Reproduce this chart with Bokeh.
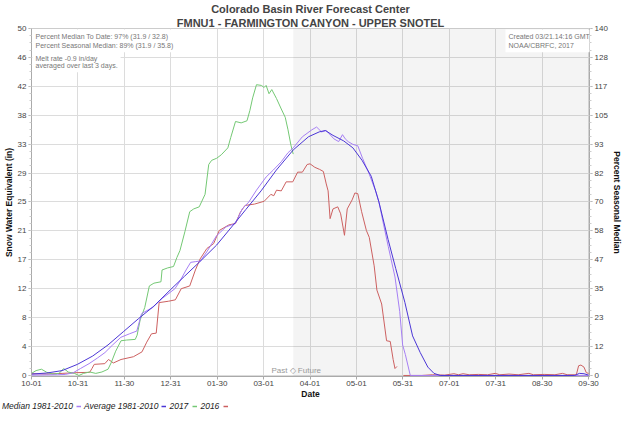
import math
from bokeh.plotting import figure
from bokeh.layouts import column, row
from bokeh.models import (Range1d, LinearAxis, FixedTicker, Label, Title, BoxAnnotation,
                          Legend, LegendItem)
from bokeh.embed import file_html
from bokeh.resources import INLINE

# ---------------- data ----------------
TITLE_1 = "Colorado Basin River Forecast Center"
TITLE_2 = "FMNU1 - FARMINGTON CANYON - UPPER SNOTEL"

# x axis: days since 10-01 (water year)
X_TICK_LABELS = ["10-01", "10-31", "11-30", "12-31", "01-30", "03-01", "04-01",
                 "05-01", "05-31", "07-01", "07-31", "08-30", "09-30"]
LAST_DAY = 364
SWE_MAX = 50
PCT_MAX = 140
CURRENT_DAY = 171  # 03-21

MEDIAN_DAYS = [0, 17, 22, 27, 32, 37.6, 43, 48, 53, 58.4, 64, 68.8, 71.9, 75, 79.2, 85.4,
               93.7, 97, 101, 104, 107, 110.4, 114.5, 120.8, 127, 133.2, 137.7, 142, 147,
               153.3, 158, 163.2, 167.6, 171, 177, 183.2, 186.3, 189.5, 192.6, 197.6, 200.7,
               203.2, 205, 206.9, 210, 213.2, 216.3, 220.7, 225, 227, 230, 233.1, 237.5,
               240.6, 242.5, 244.3, 247.5, 364]
MEDIAN_SWE = [0.05, 0.1, 0.15, 0.36, 1.0, 1.7, 2.5, 3.3, 4.4, 5.5, 6.0, 6.4, 8.9, 9.3, 9.8, 11.1,
              12.5, 13.6, 15.2, 16.3, 16.4, 16.5, 17.8, 20.1, 21.4, 21.9, 24.0, 25.0, 26.7,
              28.6, 29.6, 30.8, 32.1, 32.8, 34.4, 35.4, 35.8, 35.1, 35.3, 34.1, 33.7,
              34.7, 34.1, 33.7, 33.3, 33.1, 31.3, 29.0, 26.5, 25.0, 21.8, 18.6, 14.2,
              9.2, 4.4, 3.0, 0.0, 0.0]

AVERAGE_DAYS = [0, 10, 20, 30, 40, 50, 60, 70, 80, 91, 100, 110, 121, 133, 140, 150, 160, 171,
                181, 188, 192, 197, 204, 210, 216, 222, 227, 233, 238, 244, 249, 254, 259, 263,
                267, 355, 358, 361, 364]
AVERAGE_SWE = [0.2, 0.35, 0.7, 1.6, 2.8, 4.4, 6.3, 8.2, 10.0, 12.4, 14.3, 16.4, 18.8, 22.0, 23.9,
               26.6, 29.6, 32.5, 34.4, 35.1, 35.3, 34.6, 33.8, 32.8, 31.0, 28.7, 25.0, 19.6,
               15.4, 10.5, 5.7, 3.3, 1.2, 0.3, 0.0, 0.0, 0.3, 0.25, 0.05]

Y2017_DAYS = [0, 3, 6.5, 10, 14, 18, 21, 24, 28, 31, 34, 38, 42, 46, 50, 52, 55, 58.5, 62, 67.8,
              69, 71, 74, 77, 80, 84.6, 85.3, 89, 92.8, 95, 97, 100.2, 103.4, 106, 109.6, 113.4,
              115.8, 117.7, 121, 124, 128.3, 130.2, 133.3, 137, 140.8, 142.7, 144.5, 147, 150.2,
              152, 153.3, 155.2, 157, 160.1, 163.2, 165.8, 167.6, 169.5, 171]
Y2017_SWE = [0.3, 0.7, 0.9, 0.45, 0.2, 0.3, 1.0, 0.5, 0.3, 0.0, 0.3, 0.5, 0.3, 0.5, 0.9, 1.8,
             3.5, 5.0, 5.1, 5.2, 5.8, 8.0, 9.8, 12.9, 13.3, 13.5, 15.2, 15.5, 15.7, 17.0, 18.0,
             20.7, 23.6, 24.0, 24.3, 26.1, 30.4, 31.0, 31.3, 31.8, 32.8, 34.3, 36.6, 36.4,
             36.7, 38.2, 40.0, 41.9, 41.8, 41.5, 41.8, 40.6, 41.2, 39.9, 38.4, 37.2, 35.4,
             33.2, 31.9]

NAN = float("nan")
Y2016_DAYS = [0, 10, 20, 29, 38, 39.5, 41, 47.9, 50.3, 53.5, 58.5, 66.6, 72.2, 75.3, 78.4, 81.5,
              83.4, 89.6, 94, 97.8, 103.4, 107.1, 110.2, 114.6, 119, 122.7, 129, 133.3, 136.4,
              139.5, 145.8, 152, 156.4, 158.3, 160.1, 163.2, 166.4, 170.7, 173.9, 177, 180.1,
              182, 185.1, 188.2, 190.7, 192.6, 193.8, 195.1, 197, 200.1, 202, 204.5, 206.3,
              209.5, 211.3, 213.2, 215.7, 218.8, 220.7, 223.9, 225.7, 228.8, 232, 234.4, 236.3,
              237.5, 238.8, 241, 243, 255, 262, 270, 276, 279, 282, 286, 292, 298, 303, 306,
              312, 318, 325, 328, 335, 342, 347, 350, 356, 357.5, 359, 361, 362.5, 364]
Y2016_SWE = [0.25, 0.2, 0.3, 0.4, 0.45, 1.0, 1.6, 1.7, 2.3, 1.8, 2.3, 2.7, 3.4, 4.8, 6.0, 6.1,
             10.5, 10.7, 10.9, 12.5, 12.9, 15.2, 16.8, 18.3, 19.0, 20.9, 21.7, 21.9, 23.5,
             24.5, 24.7, 25.1, 26.1, 25.9, 26.7, 26.6, 27.9, 27.9, 29.3, 29.3, 30.4,
             30.5, 30.0, 29.7, 29.4, 27.6, 26.6, 22.6, 24.0, 24.3, 23.3, 20.2, 24.0,
             25.3, 26.3, 26.2, 23.6, 20.9, 19.9, 15.8, 12.3, 10.3, 5.0, 4.9, 2.3,
             1.0, 1.3, NAN, 0.0, 0.0, 0.1, 0.05, 0.25, 0.1, 0.25, 0.1, 0.15, 0.1, 0.3, 0.1,
             0.2, 0.1, 0.3, 0.1, 0.15, 0.1, 0.3, 0.1, 0.1, 1.4, 1.5, 1.2, 0.4, 0.3]

SERIES = [
    ("Median 1981-2010", MEDIAN_DAYS, MEDIAN_SWE),
    ("Average 1981-2010", AVERAGE_DAYS, AVERAGE_SWE),
    ("2017", Y2017_DAYS, Y2017_SWE),
    ("2016", Y2016_DAYS, Y2016_SWE),
]

INFO_LEFT = "Percent Median To Date: 97% (31.9 / 32.8)\nPercent Seasonal Median: 89% (31.9 / 35.8)"
INFO_MELT = "Melt rate -0.9 in/day\naveraged over last 3 days."
INFO_RIGHT = "Created 03/21.14:16 GMT\nNOAA/CBRFC, 2017"
PAST_FUTURE = "Past \u25c7 Future"

# ---------------- style ----------------
FONT = "Liberation Sans"
COLORS = {"Median 1981-2010": "#a67ff4", "Average 1981-2010": "#4b36d6",
          "2017": "#74c874", "2016": "#cc6060"}
DRAW_ORDER = ["2016", "2017", "Median 1981-2010", "Average 1981-2010"]
GRID = "#dcdcdc"
TICK_TXT = "#444444"
W = 624
H_MAIN = 401
H_LEG = 10

X_END = 364.6
y_lo = -0.15

p = figure(width=W, height=H_MAIN, x_range=Range1d(0, X_END), y_range=Range1d(y_lo, SWE_MAX),
           output_backend="svg", toolbar_location=None,
           min_border_left=0, min_border_right=0, min_border_top=0, min_border_bottom=0)
p.background_fill_color = "white"
p.border_fill_color = "white"
p.outline_line_color = "#cccccc"

# titles (p.title is outermost)
p.title.text = TITLE_1
p.title.align = "center"
p.title.text_font = FONT
p.title.text_font_size = "11px"
p.title.text_font_style = "bold"
p.title.standoff = 0
p.title.offset = 0
p.add_layout(Title(text=TITLE_2, align="center", text_font=FONT, text_font_size="11px",
                   text_font_style="bold", standoff=0), "above")

# x ticks
x_ticks = [i * LAST_DAY / 12 for i in range(13)]
xt = FixedTicker(ticks=x_ticks, minor_ticks=[])
p.xaxis.ticker = xt
p.xaxis.major_label_overrides = {t: lab for t, lab in zip(x_ticks, X_TICK_LABELS)}
p.xaxis.axis_label = "Date"

y_ticks = [i * SWE_MAX / 12 for i in range(13)]
y_minor = [i * SWE_MAX / 48 for i in range(49)]
yt = FixedTicker(ticks=y_ticks, minor_ticks=y_minor)
p.yaxis.ticker = yt
p.yaxis.major_label_overrides = {t: str(round(t)) for t in y_ticks}
p.yaxis.axis_label = "Snow Water Equivalent (in)"

p.extra_y_ranges = {"pct": Range1d(y_lo * PCT_MAX / SWE_MAX, PCT_MAX)}
pct_ticks = [i * PCT_MAX / 12 for i in range(13)]
pct_minor = [i * PCT_MAX / 48 for i in range(49)]
ra = LinearAxis(y_range_name="pct", axis_label="Percent Seasonal Median",
                ticker=FixedTicker(ticks=pct_ticks, minor_ticks=pct_minor))
ra.major_label_overrides = {t: str(round(t)) for t in pct_ticks}
p.add_layout(ra, "right")

for ax in [p.xaxis[0], p.yaxis[0], ra]:
    ax.axis_line_color = "#aaaaaa"
    ax.major_tick_line_color = "#aaaaaa"
    ax.minor_tick_line_color = "#cccccc"
    ax.major_tick_out = 3
    ax.major_tick_in = 0
    ax.minor_tick_out = 2
    ax.minor_tick_in = 0
    ax.major_label_text_font = FONT
    ax.major_label_text_font_size = "8px"
    ax.major_label_text_color = TICK_TXT
    ax.major_label_standoff = 2
    ax.axis_label_text_font = FONT
    ax.axis_label_text_font_size = "8.5px"
    ax.axis_label_text_font_style = "bold"
    ax.axis_label_text_color = "#111111"
    ax.axis_label_standoff = 1
p.xaxis.major_label_text_align = "left"
p.xaxis.axis_label_standoff = 0
p.xaxis.major_label_standoff = 1

p.xgrid.ticker = xt
p.ygrid.ticker = FixedTicker(ticks=y_ticks)
p.xgrid.grid_line_color = GRID
p.ygrid.grid_line_color = GRID

# future shading
p.add_layout(BoxAnnotation(left=CURRENT_DAY, fill_color="black", fill_alpha=0.045,
                           line_color=None, level="underlay"))

# lines
data = {name: (d, v) for name, d, v in SERIES}
for name in DRAW_ORDER:
    d, v = data[name]
    p.line(d, v, line_color=COLORS[name], line_width=1)

# info boxes
p.add_layout(Label(x=0, y=SWE_MAX, x_offset=1, y_offset=-1, text=INFO_LEFT,
                   text_font=FONT, text_font_size="7px", text_color="#777777",
                   text_align="left", text_baseline="top", text_line_height=1.4,
                   background_fill_color="white", padding=3))
p.add_layout(Label(x=0, y=SWE_MAX, x_offset=1, y_offset=-23, text=INFO_MELT,
                   text_font=FONT, text_font_size="7px", text_color="#777777",
                   text_align="left", text_baseline="top", text_line_height=1.1,
                   background_fill_color="white", padding=3))
p.add_layout(Label(x=X_END, y=SWE_MAX, x_offset=-84, y_offset=-1, text=INFO_RIGHT,
                   text_font=FONT, text_font_size="7px", text_color="#777777",
                   text_align="left", text_baseline="top", text_line_height=1.4,
                   background_fill_color="white", padding=3))
p.add_layout(Label(x=CURRENT_DAY, y=6, y_units="screen", x_offset=3, text=PAST_FUTURE,
                   text_font=FONT, text_font_size="8px", text_color="#999999",
                   text_align="center", text_baseline="middle"))

# ---------------- legend row (separate strip below the chart) ----------------
lf = figure(width=W, height=H_LEG, x_range=Range1d(0, 1), y_range=Range1d(0, 1),
            output_backend="svg", toolbar_location=None,
            x_axis_location=None, y_axis_location=None,
            min_border_left=0, min_border_right=0, min_border_top=0, min_border_bottom=0)
lf.grid.visible = False
lf.outline_line_color = None
lf.title = None
# each name is followed by its coloured mark, as in the original legend line
names = [s[0] for s in SERIES]
blank = lf.line([NAN], [NAN], line_alpha=0)
marks = [blank] + [lf.line([NAN], [NAN], line_color=COLORS[n], line_width=1.5) for n in names]
labels = names + [" "]
legend = Legend(items=[LegendItem(label=lab, renderers=[m]) for lab, m in zip(labels, marks)],
                orientation="horizontal", location=(-6, 0),
                glyph_width=5, glyph_height=6, label_height=9, label_standoff=3, spacing=3,
                padding=0, margin=0, border_line_color=None, background_fill_alpha=0,
                label_text_font=FONT, label_text_font_size="8.5px",
                label_text_font_style="italic", label_text_color="#222222")
lf.add_layout(legend, "center")

open("out.html", "w").write(file_html(column(p, row(lf), spacing=0), INLINE))
